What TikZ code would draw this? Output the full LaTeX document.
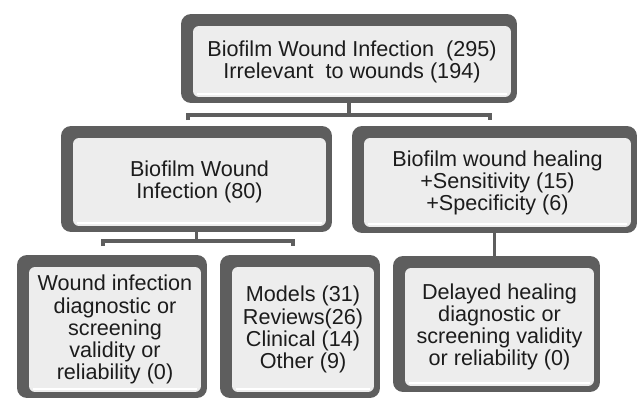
\documentclass[tikz,border=0pt]{standalone}
\usepackage{fontspec}
\setmainfont{Liberation Sans}

\definecolor{boxdark}{HTML}{5E5E5E}
\definecolor{boxlight}{HTML}{EDEDED}
\definecolor{boxtext}{HTML}{1C1C1C}

% text sits in the light part of the frame
\newcommand{\tiertext}[2][12.2pt]{\hspace*{0.12cm}\raisebox{-0.08cm}[\height][\depth]{%
    \fontsize{12.3}{#1}\selectfont\begin{tabular}{@{}c@{}}#2\end{tabular}}}

\tikzset{
    tierbox/.style = {fill = boxdark, rounded corners = 0.2cm, inner sep = 0pt,
        text = boxtext,
        path picture = {
            \fill [boxlight, rounded corners = 0.12cm]
                ([shift = {(12, 12)}]path picture bounding box.north west) rectangle
                ([shift = {(-6, -6)}]path picture bounding box.south east);
            \draw [white, line width = 1.2pt]
                ([shift = {(16, -9)}]path picture bounding box.south west) --
                ([shift = {(-10, -9)}]path picture bounding box.south east);
        }},
    bar/.style = {draw = boxdark, line width = 2.2pt},
    stem/.style = {draw = boxdark, line width = 1.8pt}
}

\begin{document}
\begin{tikzpicture}[x = 0.02cm, y = -0.02cm]
    \useasboundingbox (0, 0) rectangle (639, 400);

    % first level
    \node [tierbox, minimum width = 6.72cm, minimum height = 1.78cm] (top) at (349, 58.5)
        {\tiertext[11.4pt]{Biofilm Wound Infection\ \ (295)\\Irrelevant\ \ to wounds (194)}};

    % second level
    \node [tierbox, minimum width = 5.42cm, minimum height = 2.12cm] (infect) at (196.5, 179)
        {\tiertext[11.4pt]{Biofilm Wound\\Infection (80)}};
    \node [tierbox, minimum width = 5.7cm, minimum height = 2.14cm] (healing) at (494.5, 179.5)
        {\tiertext{Biofilm wound healing\\+Sensitivity (15)\\+Specificity (6)}};

    % third level
    \node [tierbox, minimum width = 3.8cm, minimum height = 2.86cm] (infdiag) at (112, 326.5)
        {\tiertext{Wound infection\\diagnostic or\\screening\\validity or\\reliability (0)}};
    \node [tierbox, minimum width = 3.2cm, minimum height = 2.86cm] (other) at (300, 326.5)
        {\tiertext{Models (31)\\Reviews(26)\\Clinical (14)\\Other (9)}};
    \node [tierbox, minimum width = 4.14cm, minimum height = 2.72cm] (healdiag) at (496.5, 324)
        {\tiertext{Delayed healing\\diagnostic or\\screening validity\\or reliability (0)}};

    % connectors
    \coordinate (topbarw) at (188, 115);
    \coordinate (topbare) at (490, 115);
    \draw [stem] (top.south) -- (top.south |- topbarw);
    \draw [bar] ([yshift = -0.1cm]topbarw) -- (topbarw) -- (topbare) -- ([yshift = -0.1cm]topbare);

    \coordinate (infbarw) at (103, 241);
    \coordinate (infbare) at (293, 241);
    \draw [stem] (infect.south) -- (infect.south |- infbarw);
    \draw [bar] ([yshift = -0.1cm]infbarw) -- (infbarw) -- (infbare) -- ([yshift = -0.1cm]infbare);

    \draw [stem] (healing.south) -- (healing.south |- healdiag.north);
\end{tikzpicture}
\end{document}
